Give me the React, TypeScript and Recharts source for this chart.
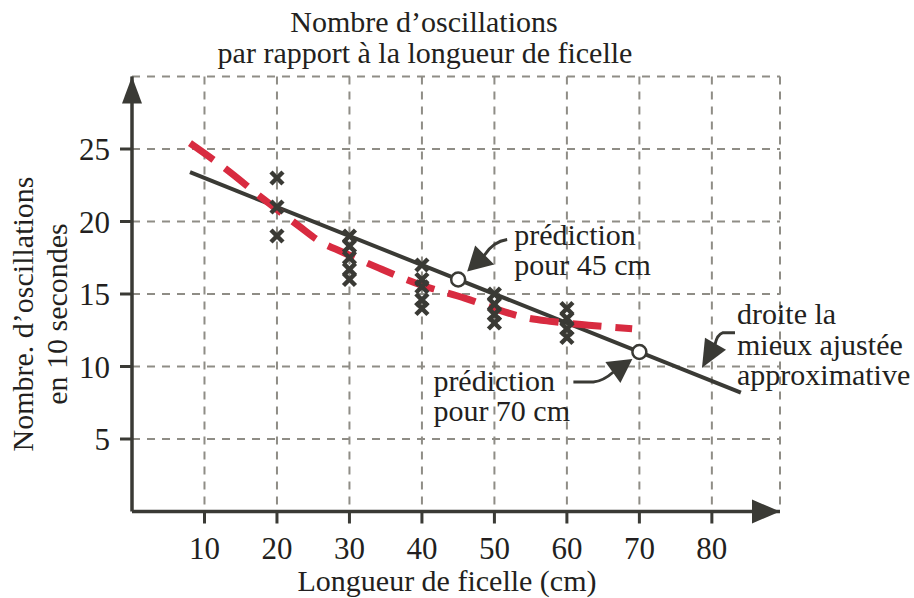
import React from 'react';
import { ComposedChart, XAxis, YAxis, CartesianGrid, Line, Scatter, ReferenceDot } from 'recharts';

// string length (cm) and counts of oscillations in 10 s
const lengths = [20, 30, 40, 50, 60];
const counts = [
  [23, 21, 19],
  [19, 18.3, 17.5, 16.7, 16],
  [17, 16, 15.5, 14.6, 14],
  [15, 14.3, 13.6, 13],
  [14, 13.3, 12.6, 12],
];

// approximate best-fit line
const fitX = [8, 84];
const fitY = [23.4, 8.2];

// red dashed curve
const curveX = [8, 13, 18, 23, 26, 29, 34, 40, 46, 50, 54, 58, 63, 69];
const curveY = [25.4, 23.6, 21.6, 19.7, 18.6, 17.9, 16.8, 15.6, 14.7, 14.0, 13.4, 13.1, 12.85, 12.6];

const xTicks = [10, 20, 30, 40, 50, 60, 70, 80];
const yTicks = [5, 10, 15, 20, 25];

const predX = [45, 70];
const predY = [16, 11];

const DARK = '#3a3a35';
const TEXT = '#231f20';
const RED = '#d82b40';
const FONT = 'Liberation Serif';

const points = lengths.flatMap((x, i) => counts[i].map((y) => ({ x, y })));
const fitData = fitX.map((x, i) => ({ x, y: fitY[i] }));
const curveData = curveX.map((x, i) => ({ x, y: curveY[i] }));

const txt = { fontFamily: FONT, fontSize: 30, fill: TEXT, style: { fontFamily: FONT } };

const XMark = ({ cx, cy }: any) => (
  <g stroke={DARK} strokeWidth={4.5}>
    <line x1={cx - 6} y1={cy - 6} x2={cx + 6} y2={cy + 6} />
    <line x1={cx - 6} y1={cy + 6} x2={cx + 6} y2={cy - 6} />
  </g>
);

const OpenDot = ({ cx, cy }: any) => <circle cx={cx} cy={cy} r={7} fill="#fff" stroke={DARK} strokeWidth={2.5} />;

const Pred45 = ({ cx, cy }: any) => (
  <g>
    <path d={`M${cx + 49} ${cy - 40} Q${cx + 35} ${cy - 38} ${cx + 26} ${cy - 24}`} stroke={DARK} strokeWidth={3} fill="none" />
    <polygon points={`${cx + 9},${cy - 8} ${cx + 36},${cy - 15} ${cx + 17},${cy - 34}`} fill={DARK} />
    <OpenDot cx={cx} cy={cy} />
    <text x={cx + 56} y={cy - 35} {...txt}>prédiction</text>
    <text x={cx + 56} y={cy - 5} {...txt}>pour 45 cm</text>
  </g>
);

const Pred70 = ({ cx, cy }: any) => (
  <g>
    <path d={`M${cx - 66} ${cy + 30} L${cx - 46} ${cy + 30} Q${cx - 36} ${cy + 29} ${cx - 26} ${cy + 20}`} stroke={DARK} strokeWidth={3} fill="none" />
    <polygon points={`${cx - 7},${cy + 7} ${cx - 34},${cy + 10} ${cx - 19},${cy + 31}`} fill={DARK} />
    <OpenDot cx={cx} cy={cy} />
    <text x={cx - 206} y={cy + 39} {...txt}>prédiction</text>
    <text x={cx - 206} y={cy + 69} {...txt}>pour 70 cm</text>
  </g>
);

const FitNote = ({ cx, cy }: any) => (
  <g>
    <path d={`M${cx + 34} ${cy - 44} L${cx + 22} ${cy - 44} Q${cx + 16} ${cy - 42} ${cx + 14} ${cy - 32}`} stroke={DARK} strokeWidth={3} fill="none" />
    <polygon points={`${cx + 1},${cy - 9} ${cx + 25},${cy - 27} ${cx + 4},${cy - 39}`} fill={DARK} />
    <text x={cx + 36} y={cy - 53} {...txt}>droite la</text>
    <text x={cx + 36} y={cy - 22} {...txt}>mieux ajustée</text>
    <text x={cx + 36} y={cy + 8} {...txt}>approximative</text>
  </g>
);

const ArrowRight = ({ cx, cy }: any) => (
  <polygon points={`${cx},${cy} ${cx - 28},${cy - 12} ${cx - 28},${cy + 12}`} fill={DARK} />
);
const ArrowUp = ({ cx, cy }: any) => (
  <polygon points={`${cx},${cy} ${cx - 10},${cy + 27} ${cx + 10},${cy + 27}`} fill={DARK} />
);

export default function App() {
  return (
    <div style={{ position: 'absolute', left: 0, top: 0, width: 914, height: 598, background: '#fff' }}>
      <ComposedChart width={914} height={598} margin={{ top: 76.5, right: 134, bottom: 26.5, left: 72 }}>
        <CartesianGrid stroke="#8f8d86" strokeWidth={2} strokeDasharray="8 7" />
        <XAxis
          type="number"
          dataKey="x"
          domain={[0, 89.4]}
          ticks={xTicks}
          height={60}
          allowDataOverflow
          tickSize={12}
          tickMargin={13}
          axisLine={{ stroke: DARK, strokeWidth: 3.5 }}
          tickLine={{ stroke: DARK, strokeWidth: 3 }}
          tick={{ ...txt, fontSize: 31 }}
        />
        <YAxis
          type="number"
          dataKey="y"
          domain={[0, 30]}
          ticks={yTicks}
          width={60}
          allowDataOverflow
          tickSize={12}
          tickMargin={10}
          axisLine={{ stroke: DARK, strokeWidth: 3.5 }}
          tickLine={{ stroke: DARK, strokeWidth: 3 }}
          tick={{ ...txt, fontSize: 31 }}
        />
        <Scatter data={points} shape={(p: any) => <XMark cx={p.cx} cy={p.cy} />} isAnimationActive={false} />
        <Line data={fitData} dataKey="y" type="linear" stroke={DARK} strokeWidth={4} dot={false} isAnimationActive={false} />
        <Line
          data={curveData}
          dataKey="y"
          type="monotone"
          stroke={RED}
          strokeWidth={7}
          strokeDasharray="29 14"
          dot={false}
          isAnimationActive={false}
        />
        <ReferenceDot x={predX[0]} y={predY[0]} ifOverflow="visible" shape={(p: any) => <Pred45 cx={p.cx} cy={p.cy} />} />
        <ReferenceDot x={predX[1]} y={predY[1]} ifOverflow="visible" shape={(p: any) => <Pred70 cx={p.cx} cy={p.cy} />} />
        <ReferenceDot x={78.5} y={9.3} ifOverflow="visible" shape={(p: any) => <FitNote cx={p.cx} cy={p.cy} />} />
        <ReferenceDot x={89.4} y={0} ifOverflow="visible" shape={(p: any) => <ArrowRight cx={p.cx} cy={p.cy} />} />
        <ReferenceDot x={0} y={30} ifOverflow="visible" shape={(p: any) => <ArrowUp cx={p.cx} cy={p.cy} />} />
        <text x={424} y={32} textAnchor="middle" {...txt}>Nombre d’oscillations</text>
        <text x={425} y={63} textAnchor="middle" {...txt}>par rapport à la longueur de ficelle</text>
        <text x={447} y={591} textAnchor="middle" {...txt}>Longueur de ficelle (cm)</text>
        <text transform="translate(33 314) rotate(-90)" textAnchor="middle" {...txt}>Nombre. d’oscillations</text>
        <text transform="translate(67 314) rotate(-90)" textAnchor="middle" {...txt}>en 10 secondes</text>
      </ComposedChart>
    </div>
  );
}
